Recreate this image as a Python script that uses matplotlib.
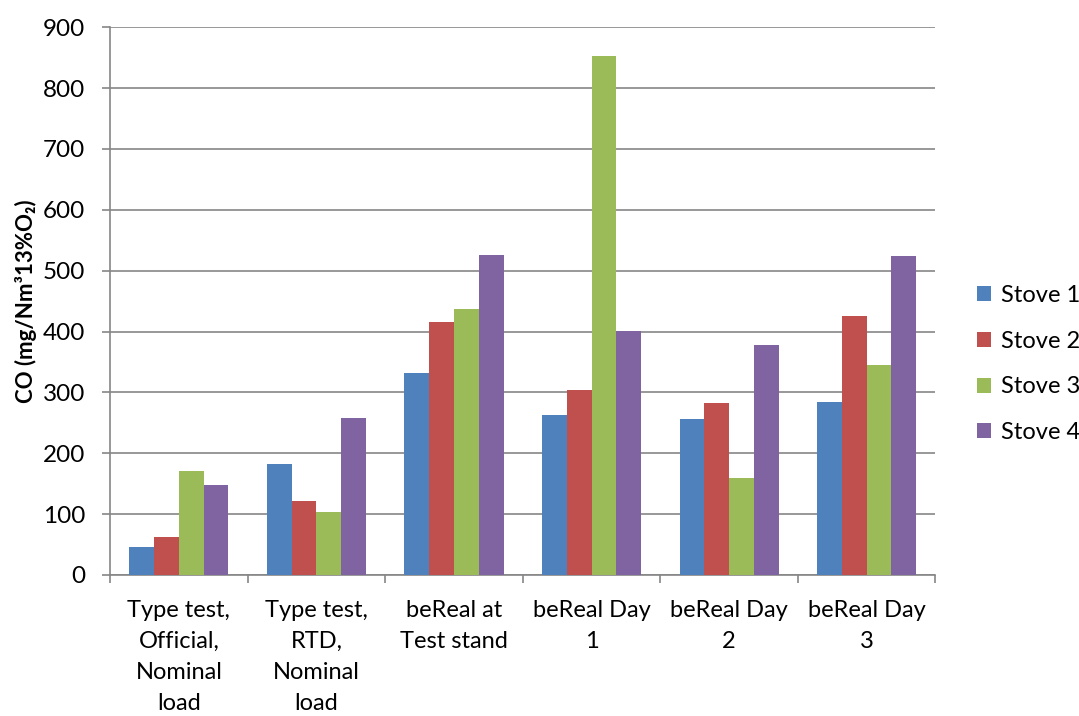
import numpy as np
import matplotlib
matplotlib.use("Agg")
import matplotlib.pyplot as plt

plt.rcParams['font.family'] = ['Lato', 'DejaVu Sans']

categories = ["Type test,\nOfficial,\nNominal\nload", "Type test,\nRTD,\nNominal\nload",
              "beReal at\nTest stand", "beReal Day\n1", "beReal Day\n2", "beReal Day\n3"]
stove1 = [46, 182, 332, 263, 257, 284]
stove2 = [62, 121, 416, 304, 283, 425]
stove3 = [170, 103, 437, 853, 160, 345]
stove4 = [147, 258, 526, 401, 378, 524]
series = [stove1, stove2, stove3, stove4]
names = ["Stove 1", "Stove 2", "Stove 3", "Stove 4"]
colors = ["#4f81bd", "#c0504d", "#9bbb59", "#8064a2"]

fig = plt.figure(figsize=(10.79, 7.16), dpi=100)
ax = fig.add_axes([0.102, 0.197, 0.765, 0.765])

x = np.arange(len(categories))
w = 0.18
for i, (vals, name, c) in enumerate(zip(series, names, colors)):
    ax.bar(x + (i - 1.5) * w, vals, w, color=c, label=name, zorder=3)

ax.set_xlim(-0.5, len(categories) - 0.5)
ax.set_ylim(0, 900)
ax.set_yticks(np.arange(0, 901, 100))
ax.grid(axis='y', color='#868686', linewidth=1.2, zorder=0)
for s in ['top', 'right']:
    ax.spines[s].set_visible(False)
for s in ['left', 'bottom']:
    ax.spines[s].set_color('#868686')
    ax.spines[s].set_linewidth(1.2)

ax.set_xticks(x)
ax.set_xticklabels(categories, fontsize=17, linespacing=1.58)
ax.tick_params(axis='x', length=0, pad=18)
ax.set_xticks(np.arange(-0.5, len(categories), 1), minor=True)
ax.tick_params(axis='x', which='minor', length=6, color='#868686', width=1.2)
ax.tick_params(axis='y', labelsize=17.5, length=6, color='#868686', width=1.2, pad=12)

ax.set_ylabel("CO (mg/Nm³13%O₂)", fontsize=16, fontweight='bold')
ax.yaxis.set_label_coords(-0.088, 0.5)

fig.legend(loc='center left', bbox_to_anchor=(977 / 1079, 1 - 364 / 716), frameon=False,
           fontsize=17, handlelength=0.6, handleheight=0.6, labelspacing=1.05,
           handletextpad=0.4, borderpad=0, borderaxespad=0)

fig.savefig("out.png", dpi=100)
